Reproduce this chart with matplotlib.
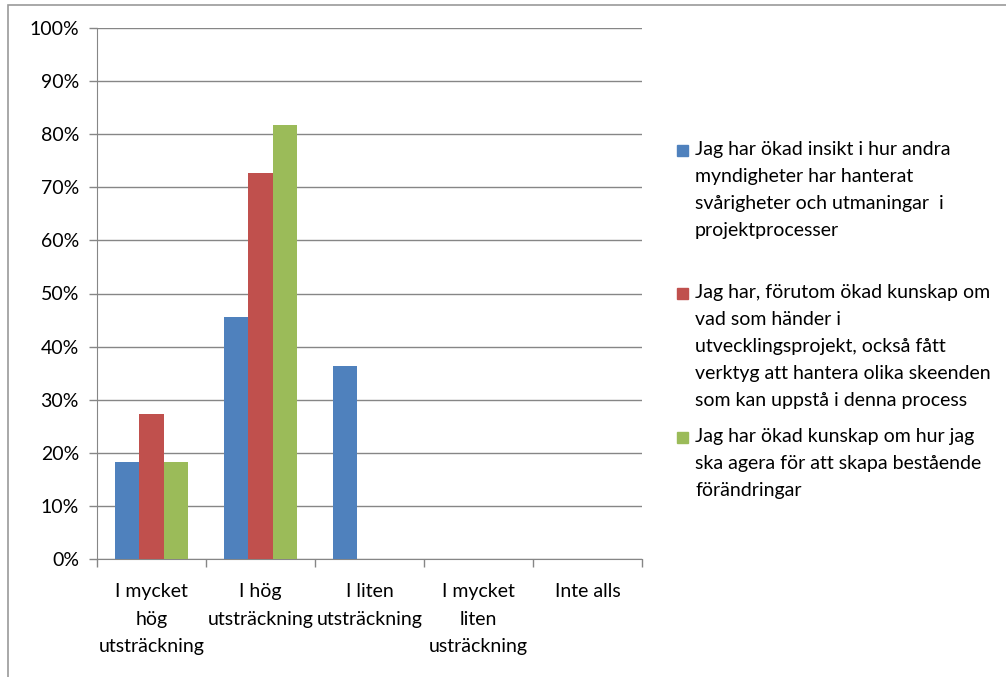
import numpy as np
import matplotlib.pyplot as plt
from matplotlib.patches import Rectangle

plt.rcParams['font.family'] = ['Lato', 'DejaVu Sans']

categories = ["I mycket\nhög\nutsträckning", "I hög\nutsträckning", "I liten\nutsträckning",
              "I mycket\nliten\nusträckning", "Inte alls"]
insikt = [0.182, 0.455, 0.364, 0.0, 0.0]
verktyg = [0.273, 0.727, 0.0, 0.0, 0.0]
agera = [0.182, 0.818, 0.0, 0.0, 0.0]
series_labels = [
    "Jag har ökad insikt i hur andra\nmyndigheter har hanterat\nsvårigheter och utmaningar  i\nprojektprocesser",
    "Jag har, förutom ökad kunskap om\nvad som händer i\nutvecklingsprojekt, också fått\nverktyg att hantera olika skeenden\nsom kan uppstå i denna process",
    "Jag har ökad kunskap om hur jag\nska agera för att skapa bestående\nförändringar",
]
colors = ["#4F81BD", "#C0504D", "#9BBB59"]

W, H = 1006, 677
fs = 14
ls = 1.72
fig = plt.figure(figsize=(W / 100, H / 100), dpi=100)
ax = fig.add_axes([97 / W, 1 - 559 / H, (642 - 97) / W, (559 - 28) / H])

x = np.arange(len(categories))
bw = 1 / 4.5
for i, vals in enumerate([insikt, verktyg, agera]):
    ax.bar(x + (i - 1) * bw, vals, width=bw, color=colors[i], zorder=3)

grid_c = "#868686"
ax.set_xlim(-0.5, len(categories) - 0.5)
ax.set_ylim(0, 1)
ax.set_yticks(np.arange(0, 1.01, 0.1))
ax.set_yticklabels([f"{int(round(v * 100))}%" for v in np.arange(0, 1.01, 0.1)])
ax.yaxis.grid(True, color=grid_c, linewidth=1, zorder=0)
ax.set_xticks(np.arange(-0.5, len(categories), 1))
ax.set_xticklabels([])
ax.tick_params(axis='x', length=6, color=grid_c, width=1)
ax.tick_params(axis='y', length=6, color=grid_c, width=1, labelsize=fs, pad=7)
for s in ["top", "right"]:
    ax.spines[s].set_visible(False)
for s in ["left", "bottom"]:
    ax.spines[s].set_color(grid_c)

for xi, lab in zip(x, categories):
    ax.text(xi, -0.046, lab, ha='center', va='top', fontsize=fs,
            transform=ax.get_xaxis_transform(), linespacing=ls)

# legend drawn by hand so each marker sits on the first line of its label
leg_tops = [141, 284, 428]
for lab, c, ytop in zip(series_labels, colors, leg_tops):
    fig.patches.append(Rectangle((677 / W, 1 - (ytop + 15) / H), 11 / W, 11 / H,
                                 transform=fig.transFigure, color=c))
    fig.text(695 / W, 1 - ytop / H, lab, ha='left', va='top', fontsize=fs, linespacing=ls)

# outer chart frame
fig.patches.append(Rectangle((8 / W, -0.1), 1.2, 1 - 5 / H + 0.1, transform=fig.transFigure,
                             fill=False, edgecolor="#9a9a9a", linewidth=1.2))

fig.savefig("out.png", dpi=100)
